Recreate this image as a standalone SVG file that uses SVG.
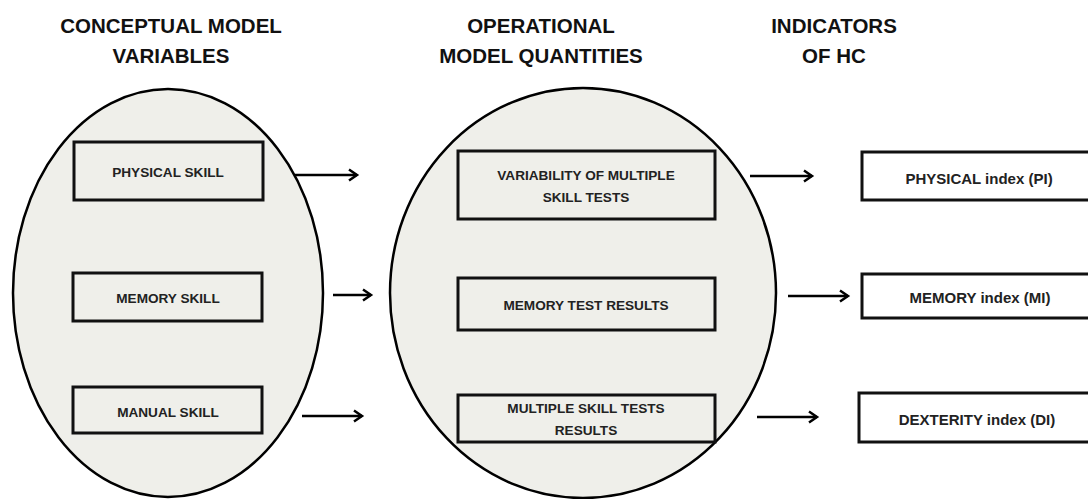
<svg xmlns="http://www.w3.org/2000/svg" width="1088" height="499" viewBox="0 0 1088 499">
<style>
.title{font-family:"Liberation Sans",Arial,sans-serif;font-weight:bold;font-size:20.5px;fill:#111;text-anchor:middle}
.lbl{font-family:"Liberation Sans",Arial,sans-serif;font-weight:bold;font-size:13.6px;fill:#222;text-anchor:middle}
.lbl2{font-family:"Liberation Sans",Arial,sans-serif;font-weight:bold;font-size:15px;fill:#222;text-anchor:middle}
.ell{fill:#efefea;stroke:#000;stroke-width:2.5}
.box{fill:#efefea;stroke:#111;stroke-width:3}
.wbox{fill:#fff;stroke:#111;stroke-width:3}
.arr{stroke:#000;stroke-width:2.5;fill:none;marker-end:url(#ah)}
</style>
<defs>
<marker id="ah" markerWidth="14" markerHeight="14" refX="11" refY="7" orient="auto" markerUnits="userSpaceOnUse">
<path d="M3,1.5 L11,7 L3,12.5" fill="none" stroke="#000" stroke-width="2.5" stroke-linejoin="miter"/>
</marker>
</defs>
<rect width="1088" height="499" fill="#fff"/>
<g id="titles">
<text class="title" x="171" y="33">CONCEPTUAL MODEL</text>
<text class="title" x="171" y="63">VARIABLES</text>
<text class="title" x="541" y="33">OPERATIONAL</text>
<text class="title" x="541" y="63">MODEL QUANTITIES</text>
<text class="title" x="834" y="33">INDICATORS</text>
<text class="title" x="834" y="63">OF HC</text>
</g>
<g id="conceptual">
<ellipse class="ell" cx="168" cy="293" rx="155" ry="204"/>
</g>
<g id="operational">
<ellipse class="ell" cx="583" cy="293" rx="193" ry="205"/>
</g>
<g id="physical-skill"><rect class="box" x="74" y="142" width="189" height="58"/><text class="lbl" x="168" y="177">PHYSICAL SKILL</text></g>
<g id="memory-skill"><rect class="box" x="73" y="273" width="189" height="48"/><text class="lbl" x="168" y="303">MEMORY SKILL</text></g>
<g id="manual-skill"><rect class="box" x="73" y="387" width="189" height="46"/><text class="lbl" x="168" y="417">MANUAL SKILL</text></g>
<g id="variability"><rect class="box" x="458" y="151" width="257" height="68"/><text class="lbl" x="586" y="180">VARIABILITY OF MULTIPLE</text><text class="lbl" x="586" y="202">SKILL TESTS</text></g>
<g id="memory-test"><rect class="box" x="458" y="278" width="257" height="52"/><text class="lbl" x="586" y="310">MEMORY TEST  RESULTS</text></g>
<g id="multiple-skill"><rect class="box" x="458" y="395" width="257" height="47"/><text class="lbl" x="586" y="413">MULTIPLE SKILL TESTS</text><text class="lbl" x="586" y="435">RESULTS</text></g>
<g id="physical-index"><rect class="wbox" x="862" y="152" width="240" height="48"/><text class="lbl2" x="979" y="184">PHYSICAL index (PI)</text></g>
<g id="memory-index"><rect class="wbox" x="862" y="274" width="240" height="44"/><text class="lbl2" x="980" y="303">MEMORY index (MI)</text></g>
<g id="dexterity-index"><rect class="wbox" x="859" y="393" width="240" height="49"/><text class="lbl2" x="977" y="425">DEXTERITY index (DI)</text></g>
<g id="connectors">
<line class="arr" x1="295" y1="175" x2="357" y2="175"/>
<line class="arr" x1="333" y1="295" x2="371" y2="295"/>
<line class="arr" x1="302" y1="416" x2="362" y2="416"/>
<line class="arr" x1="750" y1="176" x2="812" y2="176"/>
<line class="arr" x1="788" y1="296" x2="848" y2="296"/>
<line class="arr" x1="757" y1="417" x2="817" y2="417"/>
</g>
</svg>
